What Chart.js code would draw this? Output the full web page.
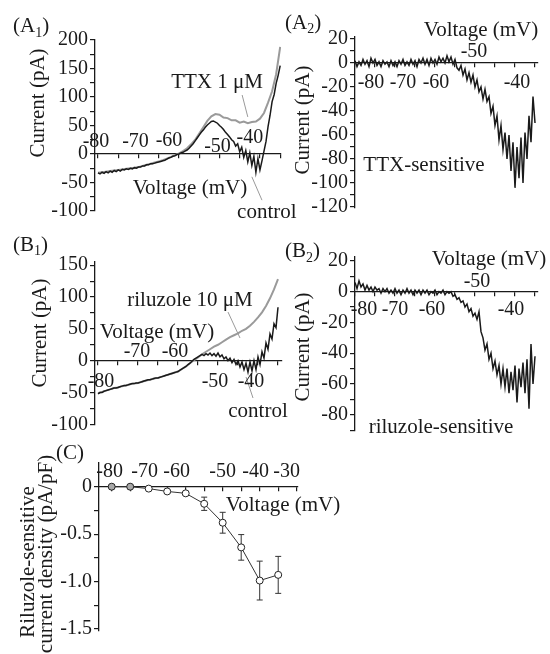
<!DOCTYPE html>
<html>
<head>
<meta charset="utf-8">
<script src="https://cdn.jsdelivr.net/npm/chart.js@4.4.0/dist/chart.umd.min.js"></script>
<style>
  html, body { margin: 0; padding: 0; background: #fff; }
  #wrap { position: relative; width: 550px; height: 654px; overflow: hidden; }
  #wrap canvas { position: absolute; left: 0; top: 0; }
</style>
</head>
<body>
<div id="wrap">
  <canvas id="chartA1" width="550" height="654"></canvas>
  <canvas id="chartA2" width="550" height="654"></canvas>
  <canvas id="chartB1" width="550" height="654"></canvas>
  <canvas id="chartB2" width="550" height="654"></canvas>
  <canvas id="chartC" width="550" height="654"></canvas>
</div>
<script>
// --- voltages (mV) ---
const vHalf = [-80, -79.5, -79, -78.5, -78, -77.5, -77, -76.5, -76, -75.5, -75, -74.5, -74, -73.5, -73, -72.5, -72, -71.5, -71, -70.5,
  -70, -69.5, -69, -68.5, -68, -67.5, -67, -66.5, -66, -65.5, -65, -64.5, -64, -63.5, -63, -62.5, -62, -61.5, -61, -60.5,
  -60, -59.5, -59, -58.5, -58, -57.5, -57, -56.5, -56, -55.5, -55, -54.5, -54, -53.5, -53, -52.5, -52, -51.5, -51, -50.5,
  -50, -49.5, -49, -48.5, -48, -47.5, -47, -46.5, -46, -45.5, -45, -44.5, -44, -43.5, -43, -42.5, -42, -41.5, -41, -40.5,
  -40, -39.5, -39, -38.5, -38, -37.5, -37, -36.5, -36, -35.5, -35];
const vOne = [-80, -79, -78, -77, -76, -75, -74, -73, -72, -71, -70, -69, -68, -67, -66, -65, -64, -63, -62, -61,
  -60, -59, -58, -57, -56, -55, -54, -53, -52, -51, -50, -49, -48, -47, -46, -45, -44, -43, -42, -41,
  -40, -39, -38, -37, -36, -35];
const vSteps = [-80, -75, -70, -65, -60, -55, -50, -45, -40, -35];

// --- (A1) currents, pA ---
const a1Control = [-33, -35, -32, -34, -31, -33, -30, -32, -29, -31, -28, -30, -27, -28, -26, -27, -25, -26, -24, -25,
  -23, -23, -21, -21, -19, -19, -17, -17, -16, -15, -14, -13, -12, -11, -9, -7, -6, -4, -3, -1,
  0, 2, 3, 5, 7, 10, 14, 18, 23, 28, 33, 38, 42, 47, 51, 54, 57, 58, 56, 54,
  50, 47, 43, 38, 34, 30, 25, 22, 14, 18, 4, 12, -6, 6, -14, 2, -20, -4, -32, -8,
  -28, -12, 5, 22, 48, 68, 92, 104, 124, 138, 155];
const a1Ttx = [-33, -32, -31, -30, -29, -28, -27, -26, -25, -24, -23, -21, -19, -17, -15, -13, -11, -8, -5, -2,
  1, 5, 10, 17, 25, 36, 47, 58, 66, 70, 69, 64, 63, 59, 59, 55, 57, 54, 56, 57,
  62, 72, 90, 110, 140, 188];

// --- (A2) TTX-sensitive current, pA ---
const a2Ttx = [2, -3, 1, -2, 3, -1, 2, -3, 4, 0, 3, -2, 1, -3, 2, -1, 1, -3, 2, -2,
  1, -3, 2, -1, 3, -2, 1, -2, 3, -1, 2, -3, 3, 0, 4, -1, 3, -2, 4, 0,
  3, -1, 5, 1, 4, 0, 6, 1, 5, -1, 3, -4, -6, -2, -10, -5, -14, -8, -16, -10,
  -20, -14, -24, -20, -30, -22, -32, -28, -42, -36, -52, -44, -64, -52, -72, -58, -80, -60, -90, -66,
  -104, -70, -96, -62, -100, -58, -80, -44, -66, -28, -50];

// --- (B1) currents, pA ---
const b1Control = [-52, -50, -50, -48, -47, -46, -45, -44, -43, -43, -42, -41, -40, -39, -39, -38, -37, -36, -36, -35,
  -35, -34, -33, -32, -31, -30, -30, -29, -28, -27, -27, -26, -25, -24, -23, -22, -21, -20, -19, -18,
  -17, -15, -13, -11, -9, -6, -4, -1, 2, 4, 6, 8, 10, 8, 11, 9, 12, 8, 11, 7,
  12, 6, 9, 3, 6, 0, 4, -3, 2, -6, 0, -10, -2, -14, -4, -18, -2, -16, 0, -14,
  6, -6, 14, 4, 28, 18, 42, 34, 58, 52, 84];
const b1Riluzole = [-51, -49, -47, -45, -43, -42, -40, -39, -37, -36, -35, -33, -31, -30, -28, -27, -25, -23, -21, -19,
  -17, -13, -9, -4, 1, 5, 10, 14, 18, 22, 25, 29, 33, 37, 40, 43, 47, 50, 55, 61,
  68, 76, 86, 98, 112, 128];

// --- (B2) riluzole-sensitive current, pA ---
const b2Riluzole = [6, 2, 7, 3, 5, 1, 4, 1, 3, 0, 3, 1, 2, -1, 2, 0, 2, -1, 1, -1,
  2, -1, 1, -2, 1, -1, 2, -1, 1, -2, 1, -1, 1, -2, 1, -1, 1, -2, 0, -1,
  1, -2, 0, -1, 1, -2, 0, -1, 0, -3, -2, -5, -4, -7, -6, -10, -8, -13, -11, -16,
  -14, -18, -13, -26, -30, -38, -34, -44, -40, -50, -45, -54, -48, -60, -50, -62, -50, -66, -52, -64,
  -48, -72, -50, -62, -46, -66, -44, -76, -34, -60, -42];

// --- (C) riluzole-sensitive current density, pA/pF ---
const cDensity = [0, 0, -0.02, -0.05, -0.07, -0.18, -0.38, -0.64, -0.99, -0.93];
const cError = [0.01, 0.01, 0.01, 0.015, 0.015, 0.07, 0.11, 0.135, 0.205, 0.195];

// --- tick values ---
const a1YTicks = [200, 175, 150, 125, 100, 75, 50, 25, 0, -25, -50, -75, -100];
const a1YLabels = [200, 150, 100, 50, 0, -50, -100];
const a2YTicks = [20, 10, 0, -10, -20, -30, -40, -50, -60, -70, -80, -90, -100, -110, -120];
const a2YLabels = [20, 0, -20, -40, -60, -80, -100, -120];
const b1YTicks = [150, 125, 100, 75, 50, 25, 0, -25, -50, -75, -100];
const b1YLabels = [150, 100, 50, 0, -50, -100];
const b2YTicks = [20, 10, 0, -10, -20, -30, -40, -50, -60, -70, -80, -90];
const b2YLabels = [20, 0, -20, -40, -60, -80];
const cYTicks = [0, -0.25, -0.5, -0.75, -1, -1.25, -1.5];
const cYLabels = [0, -0.5, -1, -1.5];
const vTicks = [-80, -75, -70, -65, -60, -55, -50, -45, -40, -35];
const cXTicks = [-80, -75, -70, -65, -60, -55, -50, -45, -40, -35, -30];
const a1XLabels = [-80, -70, -60, -50, -40];
const a2XLabels = [-80, -70, -60, -50, -40];
const b1XLabels = [-80, -70, -60, -50, -40];
const b2XLabels = [-80, -70, -60, -50, -40];
const cXLabels = [-80, -70, -60, -50, -40, -30];

// --- style ---
const FAMILY = '"Liberation Serif", "Times New Roman", serif';
const INK = '#1a1a1a';
const GREY = '#9a9a9a';
const FONT = '21px ' + FAMILY;
const TICK_FONT = '20px ' + FAMILY;
const Y_BOX = 60; // width kept for the y tick labels

// label nudges [dx, dy] from tick position on the zero line
const a1XNudge = [[-2, -12], [-3, -12], [-10, -13], [-2, -7], [-10, -16]];
const a2XNudge = [[16, 20], [8, 20], [1, 20], [-1, -11], [2, 20]];
const b1XNudge = [[3, 21], [-1, -9], [-3, -9], [-3, 21], [-7, 21]];
const b2XNudge = [[9, 18], [0, 18], [-3, 18], [2, -10], [-4, 18]];
const cXNudge = [[-2, -15], [-4, -15], [-9, -15], [0, -15], [-4, -15], [-10, -15]];

function pts(xs, ys) {
  return ys.map((y, i) => ({ x: xs[i], y: y }));
}

function yAxis(min, max, ticks, labels, fmt) {
  return {
    type: 'linear', position: 'left', min: min, max: max,
    afterFit: s => { s.width = Y_BOX; },
    afterBuildTicks: s => { s.ticks = ticks.map(v => ({ value: v })); },
    border: { color: INK, width: 1.3 },
    grid: { drawOnChartArea: false, drawTicks: true, tickLength: 5, color: INK, lineWidth: 1.2 },
    ticks: {
      autoSkip: false, padding: 2, color: INK, font: { family: FAMILY, size: 20 },
      callback: v => labels.includes(v) ? fmt(v) : ''
    }
  };
}

function xAxis(min, max, ticks) {
  return {
    type: 'linear', position: { y: 0 }, min: min, max: max,
    afterFit: s => { s.height = 0; },
    afterBuildTicks: s => { s.ticks = ticks.map(v => ({ value: v })); },
    border: { color: INK, width: 1.3 },
    grid: { drawOnChartArea: false, drawTicks: true, tickLength: 4, color: INK, lineWidth: 1.2 },
    ticks: { display: false }
  };
}

// text, pointer lines and x tick labels, all placed through the chart scales
function notesPlugin(notes, lines, xLabels, nudge) {
  return {
    id: 'notes',
    afterDraw(chart) {
      const ctx = chart.ctx, xs = chart.scales.x, ys = chart.scales.y;
      ctx.save();
      ctx.strokeStyle = GREY;
      ctx.lineWidth = 1;
      lines.forEach(l => {
        ctx.beginPath();
        ctx.moveTo(xs.getPixelForValue(l[0]), ys.getPixelForValue(l[1]));
        ctx.lineTo(xs.getPixelForValue(l[2]), ys.getPixelForValue(l[3]));
        ctx.stroke();
      });
      ctx.fillStyle = INK;
      ctx.font = TICK_FONT;
      ctx.textBaseline = 'middle';
      ctx.textAlign = 'center';
      const y0 = ys.getPixelForValue(0);
      xLabels.forEach((v, i) => {
        ctx.fillText(String(v), xs.getPixelForValue(v) + nudge[i][0], y0 + nudge[i][1]);
      });
      ctx.font = FONT;
      notes.forEach(n => {
        const px = xs.getPixelForValue(n.x), py = ys.getPixelForValue(n.y);
        if (n.sub) {
          ctx.textAlign = 'left';
          ctx.font = FONT;
          ctx.fillText(n.text, px, py);
          let w = ctx.measureText(n.text).width;
          ctx.font = '14px ' + FAMILY;
          ctx.fillText(n.sub, px + w, py + 6);
          w += ctx.measureText(n.sub).width;
          ctx.font = FONT;
          ctx.fillText(n.after, px + w, py);
        } else if (n.rot) {
          ctx.save();
          ctx.translate(px, py);
          ctx.rotate(-Math.PI / 2);
          ctx.textAlign = 'center';
          ctx.fillText(n.text, 0, 0);
          ctx.restore();
        } else {
          ctx.textAlign = 'center';
          ctx.fillText(n.text, px, py);
        }
      });
      ctx.restore();
    }
  };
}

const errorBars = {
  id: 'errorBars',
  beforeDatasetsDraw(chart) {
    const ctx = chart.ctx, xs = chart.scales.x, ys = chart.scales.y;
    ctx.save();
    ctx.strokeStyle = '#333';
    ctx.lineWidth = 1;
    vSteps.forEach((v, i) => {
      const x = xs.getPixelForValue(v);
      const top = ys.getPixelForValue(cDensity[i] + cError[i]);
      const bot = ys.getPixelForValue(cDensity[i] - cError[i]);
      ctx.beginPath();
      ctx.moveTo(x, top); ctx.lineTo(x, bot);
      ctx.moveTo(x - 3, top); ctx.lineTo(x + 3, top);
      ctx.moveTo(x - 3, bot); ctx.lineTo(x + 3, bot);
      ctx.stroke();
    });
    ctx.restore();
  }
};

// area = [left, top, right, bottom] of the plot box in page pixels
function baseOptions(area, scales) {
  return {
    responsive: false,
    animation: false,
    events: [],
    layout: { padding: { left: area[0] - Y_BOX, top: area[1], right: 550 - area[2], bottom: 654 - area[3] } },
    plugins: { legend: { display: false }, tooltip: { enabled: false } },
    scales: scales
  };
}

function trace(data, color, width) {
  return { data: data, borderColor: color, borderWidth: width, pointRadius: 0, tension: 0, fill: false };
}

const plain = v => String(v);

// (A1)
new Chart(document.getElementById('chartA1'), {
  type: 'line',
  data: { datasets: [trace(pts(vHalf, a1Control), INK, 1.5), trace(pts(vOne, a1Ttx), GREY, 2)] },
  options: baseOptions([95, 40, 281, 211], {
    x: xAxis(-80.74, -34.8, vTicks),
    y: yAxis(-100, 200, a1YTicks, a1YLabels, plain)
  }),
  plugins: [notesPlugin([
    { text: '(A', sub: '1', after: ')', x: -101, y: 223 },
    { text: 'Current (pA)', rot: true, x: -94.8, y: 89.5 },
    { text: 'TTX 1 \u03bcM', x: -50.6, y: 126 },
    { text: 'Voltage (mV)', x: -57.3, y: -61 },
    { text: 'control', x: -38.3, y: -102 }
  ], [[-44.4, 103.5, -43.0, 65], [-42.0, -40, -39.5, -81]], a1XLabels, a1XNudge)]
});

// (A2)
new Chart(document.getElementById('chartA2'), {
  type: 'line',
  data: { datasets: [trace(pts(vHalf, a2Ttx), INK, 1.5)] },
  options: baseOptions([355, 37, 538, 208], {
    x: xAxis(-80, -34.25, vTicks),
    y: yAxis(-120.8, 21.7, a2YTicks, a2YLabels, plain)
  }),
  plugins: [notesPlugin([
    { text: '(A', sub: '2', after: ')', x: -97.5, y: 33.3 },
    { text: 'Current (pA)', rot: true, x: -93, y: -47.5 },
    { text: 'Voltage (mV)', x: -48.5, y: 27.5 },
    { text: 'TTX-sensitive', x: -62.75, y: -85 }
  ], [], a2XLabels, a2XNudge)]
});

// (B1)
new Chart(document.getElementById('chartB1'), {
  type: 'line',
  data: { datasets: [trace(pts(vHalf, b1Control), INK, 1.5), trace(pts(vOne, b1Riluzole), GREY, 2)] },
  options: baseOptions([95, 262, 282, 425], {
    x: xAxis(-80.75, -34, vTicks),
    y: yAxis(-101, 155, b1YTicks, b1YLabels, plain)
  }),
  plugins: [notesPlugin([
    { text: '(B', sub: '1', after: ')', x: -101.25, y: 181.6 },
    { text: 'Current (pA)', rot: true, x: -94.5, y: 43.5 },
    { text: 'riluzole 10 \u03bcM', x: -57, y: 95.3 },
    { text: 'Voltage (mV)', x: -65.25, y: 45 },
    { text: 'control', x: -40, y: -80.5 }
  ], [[-47.5, 76.4, -44.5, 35.6], [-43, -25.6, -41.25, -58.6]], b1XLabels, b1XNudge)]
});

// (B2)
new Chart(document.getElementById('chartB2'), {
  type: 'line',
  data: { datasets: [trace(pts(vHalf, b2Riluzole), INK, 1.5)] },
  options: baseOptions([355, 257, 538, 431], {
    x: xAxis(-80, -34.25, vTicks),
    y: yAxis(-90.5, 22.5, b2YTicks, b2YLabels, plain)
  }),
  plugins: [notesPlugin([
    { text: '(B', sub: '2', after: ')', x: -97.5, y: 25.8 },
    { text: 'Current (pA)', rot: true, x: -93, y: -35.9 },
    { text: 'Voltage (mV)', x: -46.5, y: 20.6 },
    { text: 'riluzole-sensitive', x: -58.5, y: -87.9 }
  ], [], b2XLabels, b2XNudge)]
});

// (C)
new Chart(document.getElementById('chartC'), {
  type: 'line',
  data: {
    datasets: [{
      data: pts(vSteps, cDensity),
      borderColor: '#333', borderWidth: 1, tension: 0,
      pointRadius: 3.5, pointBorderWidth: 1, pointBorderColor: '#222',
      pointBackgroundColor: ['#a8a8a8', '#a8a8a8', '#fff', '#fff', '#fff', '#fff', '#fff', '#fff', '#fff', '#fff']
    }]
  },
  options: baseOptions([99, 463, 298, 631], {
    x: xAxis(-83.43, -29.65, cXTicks),
    y: yAxis(-1.522, 0.25, cYTicks, cYLabels, v => v === 0 ? '0' : v.toFixed(1))
  }),
  plugins: [errorBars, notesPlugin([
    { text: '(C)', x: -91.3, y: 0.355 },
    { text: 'Voltage (mV)', x: -33.7, y: -0.193 },
    { text: 'Riluzole-sensitive', rot: true, x: -102.6, y: -0.794 },
    { text: 'current density (pA/pF)', rot: true, x: -97.5, y: -0.71 }
  ], [], cXLabels, cXNudge)]
});
</script>
</body>
</html>
